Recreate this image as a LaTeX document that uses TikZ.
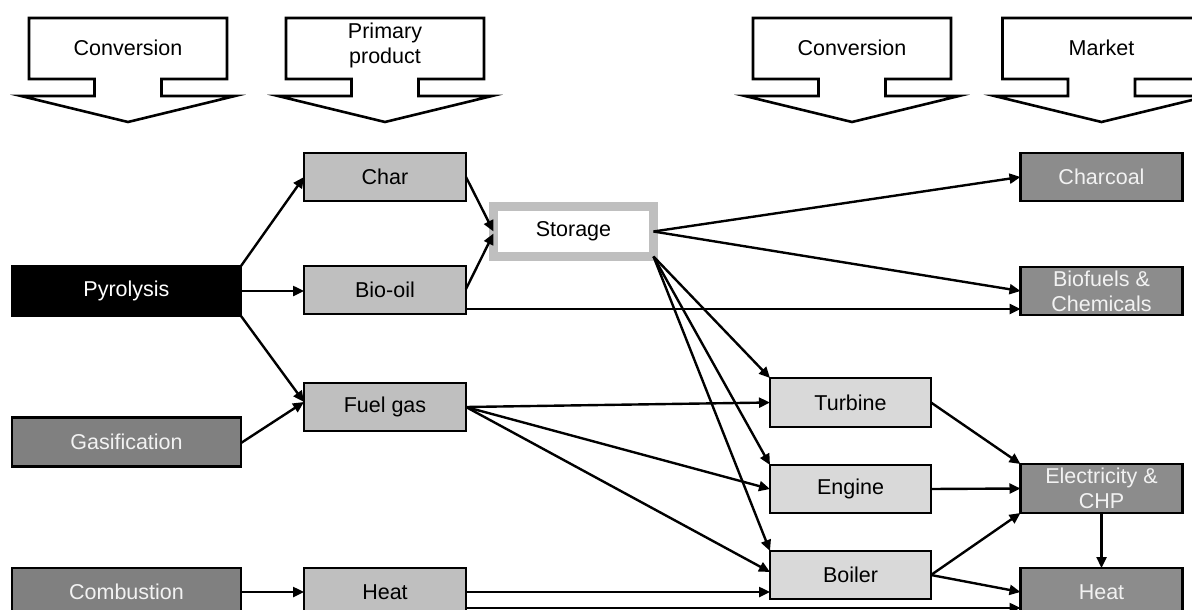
\documentclass[tikz,border=0pt]{standalone}
\usepackage{fontspec}
\setmainfont{Liberation Sans}
\usetikzlibrary{arrows.meta}
\definecolor{prim}{HTML}{BFBFBF}
\definecolor{conv}{HTML}{D9D9D9}
\definecolor{dark}{HTML}{808080}
\definecolor{mark}{HTML}{8C8C8C}
\definecolor{lite}{HTML}{F2F2F2}
\tikzset{
  box/.style={rectangle, draw=black, line width=2.6pt, inner sep=0pt, outer sep=0pt,
    align=center, font=\fontsize{21.5}{25}\selectfont},
  primbox/.style={box, fill=prim, minimum width=162pt, minimum height=48pt},
  convbox/.style={box, fill=conv, minimum width=161pt, minimum height=48pt},
  srcbox/.style={box, fill=dark, text=lite, minimum width=229pt, minimum height=49pt},
  markbox/.style={box, fill=mark, text=lite, minimum width=162pt, minimum height=48pt},
  storebox/.style={box, draw=prim, line width=9pt, fill=white, minimum width=160pt, minimum height=50pt},
  flow/.style={line width=2.4pt, -{Triangle[length=11pt,width=10pt]}},
  lbl/.style={align=center, font=\fontsize{21.5}{25}\selectfont},
  blockarr/.pic={
    \draw[line width=2.6pt, fill=white] (-99,18) -- (99,18) -- (99,79) -- (33.5,79) -- (33.5,96)
      -- (107,96) -- (0,122) -- (-107,96) -- (-33.5,96) -- (-33.5,79) -- (-99,79) -- cycle;
  }
}
\begin{document}
\begin{tikzpicture}[x=1pt,y=-1pt]
\useasboundingbox (0,0) rectangle (1192,610);
\clip (0,0) rectangle (1192,610);

% header block arrows
\pic at (128,0) {blockarr};
\pic at (385,0) {blockarr};
\pic at (852,0) {blockarr};
\pic at (1101.5,0) {blockarr};
\node[lbl] (h1) at (128,48) {Conversion};
\node[lbl] (h2) at (385,45) {Primary\\product};
\node[lbl] (h3) at (852,48) {Conversion};
\node[lbl] (h4) at (1101.5,48) {Market};

% conversion sources
\node[srcbox, fill=black, draw=black, text=white, minimum height=50pt] (pyro) at (126.5,291) {Pyrolysis};
\node[srcbox] (gasif) at (126.5,442) {Gasification};
\node[srcbox, minimum height=48pt] (comb) at (126.5,592) {Combustion};

% primary products
\node[primbox] (char) at (385,177) {Char};
\node[primbox] (biooil) at (385,290) {Bio-oil};
\node[primbox] (fuelgas) at (385,407) {Fuel gas};
\node[primbox] (heatp) at (385,592) {Heat};

% storage
\node[storebox] (store) at (573.5,231.5) {Storage};

% conversion
\node[convbox, minimum height=49pt] (turb) at (850.5,402.5) {Turbine};
\node[convbox] (eng) at (850.5,489) {Engine};
\node[convbox] (boil) at (850.5,575) {Boiler};

% market
\node[markbox] (charcoal) at (1101.5,177) {Charcoal};
\node[markbox] (biofuel) at (1101.5,291) {Biofuels \&\\Chemicals};
\node[markbox, minimum height=49pt] (elec) at (1101.5,488.5) {Electricity \&\\CHP};
\node[markbox] (heatm) at (1101.5,592) {Heat};

% connectors
\draw[flow] (pyro.north east) -- (char.west);
\draw[flow] (pyro.east) -- (biooil.west |- pyro.east);
\draw[flow] (pyro.south east) -- ([yshift=5pt]fuelgas.west);
\draw[flow] ([yshift=-1pt]gasif.east) -- ([yshift=5pt]fuelgas.west);
\draw[flow] (comb.east) -- (heatp.west);

\draw[flow] (char.east) -- (store.west);
\draw[flow] ([yshift=1pt]biooil.east) -- ([yshift=-2pt]store.west);
\draw[flow] ([yshift=-19pt]biooil.east) -- ([yshift=-19pt]biooil.east -| biofuel.west);

\draw[flow] (store.east) -- (charcoal.west);
\draw[flow] (store.east) -- (biofuel.west);
\draw[flow] (store.south east) -- (turb.north west);
\draw[flow] (store.south east) -- (eng.north west);
\draw[flow] (store.south east) -- (boil.north west);

\draw[flow] (fuelgas.east) -- (turb.west);
\draw[flow] (fuelgas.east) -- (eng.west);
\draw[flow] (fuelgas.east) -- ([yshift=3pt]boil.west);
\draw[flow] (heatp.east) -- (heatp.east -| boil.west);
\draw[flow] ([yshift=-16pt]heatp.east) -- ([yshift=-16pt]heatp.east -| heatm.west);

\draw[flow] (turb.east) -- (elec.north west);
\draw[flow] (eng.east) -- (elec.west);
\draw[flow] (boil.east) -- (elec.south west);
\draw[flow] (boil.east) -- (heatm.west);
\draw[flow] (elec.south) -- (heatm.north);
\end{tikzpicture}
\end{document}
